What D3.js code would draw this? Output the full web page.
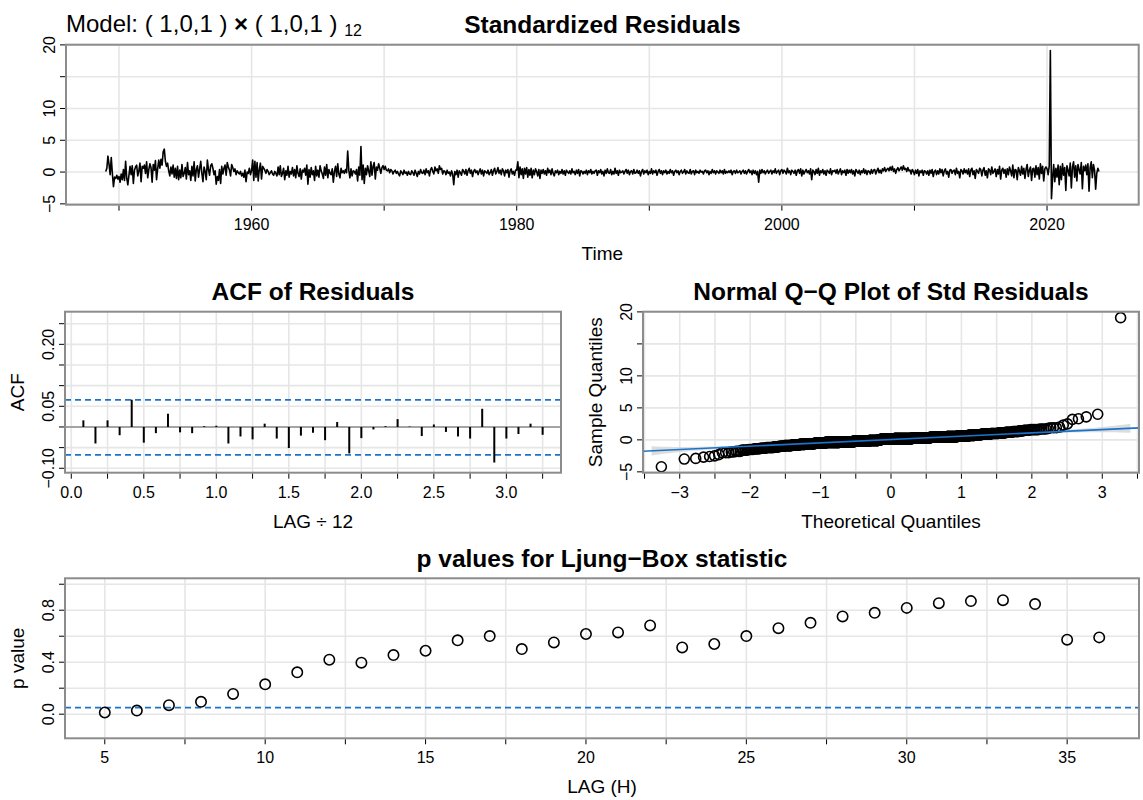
<!DOCTYPE html>
<html>
<head>
<meta charset="utf-8">
<script src="https://cdn.jsdelivr.net/npm/d3@7"></script>
<style>
  body { margin: 0; background: #fff; }
  text { font-family: "Liberation Sans", Arial, Helvetica, sans-serif; fill: #000; }
</style>
</head>
<body>
<svg id="chart" width="1143" height="800"></svg>
<script>
// monthly standardized residuals, Jan 1949 .. Dec 2023 (one row per year)
var startYear = 1949;
var resid = [
  0.1, 0.6, 2.5, 1.2, -0.4, 2.3, -0.2, -2.3, -0.8, -1.0, -0.5, -1.1,
  -0.7, -1.6, -0.3, -1.2, 0.4, -1.3, 1.7, -0.9, -2.0, -0.5, 0.9, -0.4,
  1.0, -1.8, 0.3, 0.8, 1.1, -0.6, 0.2, 1.4, -1.5, 0.9, 0.6, 1.1,
  -0.2, 1.6, -0.9, 0.4, 1.3, 0.7, -1.6, 1.2, 0.3, 1.8, -1.2, 0.5,
  1.9, 0.6, 2.0, 1.1, 3.2, 3.6, 1.7, 0.9, 1.4, 0.2, -0.6, 0.8,
  -0.3, 1.1, -0.8, 0.6, -1.0, 0.9, -1.2, 0.3, -0.9, 1.2, -0.7, -0.2,
  0.7, -1.1, 1.5, -0.4, 0.2, -1.3, 0.9, -0.6, 1.6, -1.4, 0.4, 1.0,
  -0.8, 0.5, 1.7, -0.2, -1.5, 0.8, 0.1, -1.2, 1.9, 0.4, -0.5, 1.0,
  1.3, 0.6, -0.4, 0.2, -1.9, -0.7, -1.3, 0.4, -1.8, 0.9, -0.3, 0.6,
  1.1, -0.5, 1.5, 0.8, 0.3, -0.6, 1.2, 0.7, 0.1, 0.5, -0.4, 0.2,
  -0.1, -0.3, 0.1, -0.6, -0.2, -0.8, 0.3, -1.5, 0.0, -0.2, 0.6, -0.4,
  0.2, 1.9, -1.3, 1.7, -0.8, 1.5, -1.4, 0.4, 1.4, -1.1, 0.9, 0.6,
  0.3, -0.2, 0.4, 0.1, -0.4, -0.1, 0.2, -0.3, -0.5, 0.1, -0.2, -0.6,
  0.8, -0.4, 1.0, -0.7, -0.2, 0.6, -1.2, 0.2, -0.5, 0.9, -0.8, 0.1,
  -0.3, 0.7, -0.6, 0.4, -0.9, 1.0, -0.2, -0.7, 0.5, -1.1, 0.3, 0.0,
  0.6, -0.5, 1.1, -1.9, 0.4, -0.8, 0.7, -0.4, 0.2, -1.3, 0.9, -0.6,
  0.3, -0.8, 1.0, 0.2, -0.3, -1.0, 0.8, -0.5, 1.2, -0.9, 0.4, -0.2,
  -0.4, 0.5, -1.6, 0.1, 0.9, -0.7, 1.3, -0.3, -0.9, 0.6, -0.1, 0.2,
  -0.2, 0.4, -0.1, 3.3, 0.3, -0.9, 0.5, -0.6, 0.2, 0.1, -0.3, 0.4,
  -1.4, 0.8, -0.5, 4.0, -1.2, 1.1, -1.8, 0.6, -0.4, 1.0, 0.2, -0.7,
  1.6, -0.5, 0.9, 1.5, -1.1, 0.8, 0.3, 1.3, 0.6, -0.2, 0.7, 1.0,
  0.4, 0.9, 0.3, 0.2, 0.5, -0.1, 0.4, 0.2, -0.3, 0.1, 0.3, -0.2,
  0.1, -0.3, -0.6, 0.2, -0.1, -0.4, 0.3, -0.2, 0.0, -0.5, 0.1, -0.3,
  -0.4, 0.2, -0.1, -0.5, 0.3, -0.2, -0.7, 0.1, -0.3, 0.4, -0.1, -0.2,
  0.3, -0.4, 0.5, -0.1, 0.2, -0.6, 0.4, 0.7, 0.1, -0.3, 0.8, 0.2,
  0.5, -0.2, 1.0, 0.4, 0.6, -0.3, 0.2, 0.1, -0.4, 0.3, -0.2, 0.0,
  -0.6, 0.2, -0.3, -2.0, 0.1, -0.4, 0.3, -0.8, 0.2, -0.1, -0.5, 0.4,
  0.1, -0.3, 0.4, -0.5, 0.2, 0.6, -0.2, 0.3, -0.7, 0.1, 0.4, -0.1,
  0.2, -0.4, 0.1, 0.5, -0.3, 0.3, -0.6, 0.2, 0.0, -0.2, 0.3, -0.4,
  -0.1, 0.4, -0.5, 0.2, 0.6, -0.3, 0.1, 0.7, -0.2, 0.3, -0.4, 0.5,
  0.2, -0.6, 0.3, -0.1, 0.4, -0.8, 0.2, 0.5, -0.3, 0.1, -0.5, 0.3,
  0.3, 1.6, -0.9, 0.8, -0.4, 0.5, -1.0, 0.6, -0.3, 0.7, -0.8, 0.4,
  -0.5, 0.6, -0.9, 0.3, -0.4, 0.5, 0.1, -0.6, 0.4, -1.0, 0.3, -0.2,
  0.4, -0.3, 0.2, -0.5, 0.6, -0.1, 0.3, -0.4, 0.5, -0.2, -0.6, 0.2,
  -0.1, 0.3, -0.4, 0.1, -0.2, 0.4, -0.3, 0.2, -0.5, 0.3, 0.0, -0.2,
  0.2, -0.3, 0.5, -0.1, 0.1, -0.4, 0.3, -0.2, 0.4, -0.6, 0.2, 0.1,
  -0.3, 0.1, -0.2, 0.3, -0.4, 0.2, -0.1, 0.4, -0.3, 0.1, -0.2, 0.2,
  0.3, -0.5, 0.2, -0.1, 0.4, -0.3, 0.1, -0.6, 0.3, -0.2, 0.5, -0.1,
  -0.2, 0.4, -0.4, 0.1, -0.3, 0.6, -0.2, 0.2, -0.5, 0.3, -0.1, 0.0,
  0.2, -0.3, 0.1, 0.4, -0.2, 0.3, -0.4, 0.1, 0.2, -0.3, 0.4, -0.2,
  -0.1, 0.3, -0.2, 0.2, -0.6, 0.1, 0.4, -0.3, 0.2, -0.1, 0.3, -0.4,
  0.1, -0.2, 0.5, -0.3, 0.2, -0.1, 0.3, -0.5, 0.1, 0.4, -0.2, 0.2,
  -0.4, 0.2, -0.1, 0.3, -0.3, 0.1, -0.2, 0.4, -0.1, 0.2, -0.5, 0.1,
  0.3, -0.1, 0.2, -0.4, 0.1, 0.3, -0.2, 0.0, 0.4, -0.3, 0.2, -0.1,
  -0.2, 0.4, -0.3, 0.1, 0.2, -0.4, 0.3, -0.1, 0.1, -0.2, 0.3, 0.0,
  0.1, -0.3, 0.2, 0.3, -0.1, 0.2, -0.4, 0.1, -0.2, 0.4, -0.1, 0.2,
  -0.3, 0.2, 0.0, -0.2, 0.3, -0.1, 0.2, -0.3, 0.4, -0.2, 0.1, -0.1,
  0.2, -0.1, 0.3, -0.4, 0.1, 0.2, -0.2, 0.3, -0.1, 0.0, 0.2, -0.3,
  0.1, 0.3, -0.2, 0.2, -0.3, 0.1, 0.4, -0.1, 0.2, -0.4, 0.3, -0.2,
  0.2, -0.4, 0.1, -1.6, 0.3, -0.2, 0.4, -0.1, 0.2, -0.3, 0.1, 0.3,
  -0.2, 0.1, 0.3, -0.3, 0.2, -0.1, 0.5, -0.2, 0.1, 0.3, -0.4, 0.2,
  0.4, -0.2, 0.3, 0.1, -0.3, 0.6, -0.1, 0.2, -0.4, 0.3, 0.1, -0.2,
  0.3, -0.5, 0.2, 0.4, -0.2, 0.5, -0.6, 0.3, -0.3, 0.1, 0.4, -0.1,
  0.2, -0.3, 0.5, -1.2, 0.3, 0.1, -0.4, 0.4, -0.2, 0.6, -0.5, 0.2,
  -0.1, 0.4, -0.3, 0.2, -0.5, 0.3, 0.1, -0.2, 0.5, -0.4, 0.2, 0.1,
  0.3, -0.2, 0.4, -0.3, 0.1, 0.5, -0.4, 0.2, -0.1, 0.3, -0.5, 0.4,
  -0.2, 0.3, -0.1, 0.4, -0.3, 0.2, -0.6, 0.4, 0.1, -0.2, 0.3, -0.4,
  0.2, -0.1, 0.5, -0.2, 0.3, -0.4, 0.2, 0.1, -0.3, 0.4, -0.2, 0.3,
  0.4, -0.3, 0.2, 0.6, -0.1, 0.3, -0.2, 0.5, 0.2, 0.7, 0.1, 0.4,
  0.6, 0.2, 0.8, 0.3, 0.9, 0.1, 0.5, -0.2, 0.4, 0.7, 0.2, 0.5,
  0.8, 0.3, 1.0, 0.4, 0.6, 0.1, 0.7, 0.2, 0.3, -0.3, 0.4, 0.1,
  -0.4, 0.3, -0.2, 0.4, -0.6, 0.2, -0.1, 0.3, -0.5, 0.2, 0.1, -0.3,
  0.2, -0.5, 0.3, -0.2, 0.4, -0.7, 0.1, 0.3, -0.4, 0.2, -0.3, 0.5,
  -0.1, 0.4, -0.6, 0.2, 0.5, -0.3, 0.1, -0.8, 0.3, 0.4, -0.2, 0.2,
  0.3, -0.4, 0.6, -0.2, 0.1, -0.9, 0.4, 0.2, -0.3, 0.5, -0.1, 0.3,
  -0.3, 0.5, -0.7, 0.3, 0.6, -0.4, 0.2, -1.0, 0.4, 0.1, -0.2, 0.6,
  0.4, -0.6, 0.3, 0.7, -0.5, 0.2, -0.9, 0.5, 0.3, -0.4, 0.8, -0.2,
  0.1, 0.5, -0.7, 0.4, -0.3, 0.9, -1.1, 0.3, 0.6, -0.2, 0.4, -0.8,
  0.5, -0.4, 0.8, 0.2, -0.6, 1.1, -0.9, 0.4, 0.3, -1.2, 0.7, 0.2,
  -0.5, 0.9, -0.3, 0.6, -1.0, 0.4, 1.2, -0.7, 0.3, 0.8, -1.3, 0.5,
  0.6, -0.8, 1.0, -0.4, 0.7, -1.1, 1.3, -0.2, 0.9, -1.4, 0.5, 0.8,
  0.5, -0.4, 1.0, 19.1, -4.2, -1.0, 1.2, -1.5, 0.6, -0.8, 1.1, -2.0,
  0.9, -1.2, 1.3, -0.5, 0.7, -2.9, 1.0, 0.3, -0.6, 1.4, -2.5, 0.8,
  1.6, -0.8, 1.0, -1.4, 1.2, 0.4, -0.3, 1.5, -2.6, 0.9, 0.2, 1.1,
  -0.4, 1.3, -3.0, 0.7, 1.6, -0.9, 1.2, 0.3, -2.7, -0.2, 0.6, 0.1
];

// ACF of residuals, lags 1..39 (plotted as lag/12)
var acfVals = [
  0.016, -0.040, 0.016, -0.020, 0.066, -0.038, -0.015, 0.032, -0.013, -0.015, 0.002, 0.003,
  -0.040, -0.023, -0.030, 0.008, -0.028, -0.051, -0.021, -0.014, -0.032, 0.012, -0.064, -0.027,
  -0.006, 0.002, 0.019, 0.001, -0.022, 0.006, -0.012, -0.023, -0.028, 0.044, -0.086, -0.028,
  -0.017, 0.008, -0.019
];
var acfFreq = 12;

// Ljung-Box p values, H = 5..36
var lbLags = [5, 6, 7, 8, 9, 10, 11, 12, 13, 14, 15, 16, 17, 18, 19, 20,
              21, 22, 23, 24, 25, 26, 27, 28, 29, 30, 31, 32, 33, 34, 35, 36];
var lbPvals = [0.013, 0.028, 0.069, 0.095, 0.156, 0.230, 0.322, 0.419, 0.396, 0.455, 0.488, 0.568,
               0.601, 0.501, 0.552, 0.617, 0.629, 0.683, 0.514, 0.540, 0.601, 0.662, 0.703, 0.752,
               0.780, 0.818, 0.854, 0.870, 0.877, 0.847, 0.573, 0.591];

var svg = d3.select("#chart");
var gridCol = "#e6e6e6", boxCol = "#8c8c8c", blue = "#1874CD";
var tickFont = "16px", labFont = "19px", mainFont = "bold 24.5px";

// R style range: data extent padded 4% each side
function pad(ext) {
  var d = (ext[1] - ext[0]) * 0.04;
  return [ext[0] - d, ext[1] + d];
}

function qnorm(p) {
  var a = [-3.969683028665376e+01, 2.209460984245205e+02, -2.759285104469687e+02, 1.383577518672690e+02, -3.066479806614716e+01, 2.506628277459239e+00];
  var b = [-5.447609879822406e+01, 1.615858368580409e+02, -1.556989798598866e+02, 6.680131188771972e+01, -1.328068155288572e+01];
  var c = [-7.784894002430293e-03, -3.223964580411365e-01, -2.400758277161838e+00, -2.549732539343734e+00, 4.374664141464968e+00, 2.938163982698783e+00];
  var d = [7.784695709041462e-03, 3.224671290700398e-01, 2.445134137142996e+00, 3.754408661907416e+00];
  var q, r;
  if (p < 0.02425) {
    q = Math.sqrt(-2 * Math.log(p));
    return (((((c[0]*q+c[1])*q+c[2])*q+c[3])*q+c[4])*q+c[5]) / ((((d[0]*q+d[1])*q+d[2])*q+d[3])*q+1);
  }
  if (p > 1 - 0.02425) {
    q = Math.sqrt(-2 * Math.log(1 - p));
    return -(((((c[0]*q+c[1])*q+c[2])*q+c[3])*q+c[4])*q+c[5]) / ((((d[0]*q+d[1])*q+d[2])*q+d[3])*q+1);
  }
  q = p - 0.5; r = q * q;
  return (((((a[0]*r+a[1])*r+a[2])*r+a[3])*r+a[4])*r+a[5])*q / (((((b[0]*r+b[1])*r+b[2])*r+b[3])*r+b[4])*r+1);
}
function dnorm(z) { return Math.exp(-z * z / 2) / Math.sqrt(2 * Math.PI); }
function erf(x) {
  var t = 1 / (1 + 0.3275911 * Math.abs(x));
  var y = 1 - (((((1.061405429 * t - 1.453152027) * t) + 1.421413741) * t - 0.284496736) * t + 0.254829592) * t * Math.exp(-x * x);
  return x >= 0 ? y : -y;
}

// grid, box, ticks and labels for one panel
function panel(x, y, o) {
  var g = svg.append("g");
  var x0 = x.range()[0], x1 = x.range()[1], y0 = y.range()[0], y1 = y.range()[1];
  g.selectAll(".gx").data(o.gridX).enter().append("line")
    .attr("x1", x).attr("x2", x).attr("y1", y0).attr("y2", y1)
    .attr("stroke", gridCol).attr("stroke-width", 1.6);
  g.selectAll(".gy").data(o.gridY).enter().append("line")
    .attr("y1", y).attr("y2", y).attr("x1", x0).attr("x2", x1)
    .attr("stroke", gridCol).attr("stroke-width", 1.6);
  var top = svg.append("g");
  o.after = function() {
    top.raise();
    top.append("rect").attr("x", x0).attr("y", y1).attr("width", x1 - x0).attr("height", y0 - y1)
      .attr("fill", "none").attr("stroke", boxCol).attr("stroke-width", 2);
    top.selectAll(".tx").data(o.ticksX).enter().append("line")
      .attr("x1", x).attr("x2", x).attr("y1", y0 + 1).attr("y2", y0 + 6)
      .attr("stroke", "#000").attr("stroke-width", 1);
    top.selectAll(".ty").data(o.ticksY).enter().append("line")
      .attr("y1", y).attr("y2", y).attr("x1", x0 - 1).attr("x2", x0 - 6)
      .attr("stroke", "#000").attr("stroke-width", 1);
    top.selectAll(".lx").data(o.labX).enter().append("text")
      .attr("x", x).attr("y", y0 + 25).attr("text-anchor", "middle")
      .style("font-size", tickFont).text(o.fmtX);
    top.selectAll(".ly").data(o.labY).enter().append("text")
      .attr("transform", function(d) { return "translate(" + (x0 - 11) + "," + y(d) + ") rotate(-90)"; })
      .attr("text-anchor", "middle").style("font-size", tickFont).text(o.fmtY);
    top.append("text").attr("x", (x0 + x1) / 2).attr("y", y0 + 55).attr("text-anchor", "middle")
      .style("font-size", labFont).text(o.xlab);
    top.append("text").attr("transform", "translate(" + (x0 - 41) + "," + ((y0 + y1) / 2) + ") rotate(-90)")
      .attr("text-anchor", "middle").style("font-size", labFont).text(o.ylab);
    top.append("text").attr("x", (x0 + x1) / 2).attr("y", y1 - 11.5).attr("text-anchor", "middle")
      .style("font", mainFont + " 'Liberation Sans', Arial, sans-serif").text(o.main);
  };
  return g;
}

// ---- standardized residuals ----
var times = resid.map(function(v, i) { return startYear + i / 12; });
var xT = d3.scaleLinear().domain(pad(d3.extent(times))).range([66, 1138.7]);
var yT = d3.scaleLinear().domain(pad(d3.extent(resid))).range([204.7, 44.7]);
var oT = {
  gridX: d3.range(1950, 2021, 10), gridY: d3.range(-5, 21, 5),
  ticksX: d3.range(1950, 2021, 10), ticksY: d3.range(-5, 21, 5),
  labX: [1960, 1980, 2000, 2020], labY: [-5, 0, 5, 10, 20],
  fmtX: d3.format("d"), fmtY: d3.format("d"),
  xlab: "Time", ylab: "", main: "Standardized Residuals"
};
var gT = panel(xT, yT, oT);
gT.append("path").datum(resid)
  .attr("d", d3.line().x(function(d, i) { return xT(times[i]); }).y(function(d) { return yT(d); }))
  .attr("fill", "none").attr("stroke", "#000").attr("stroke-width", 1.6).attr("stroke-linejoin", "round");
oT.after();
var model = svg.append("text").attr("x", 66).attr("y", 32).style("font-size", "24px");
model.append("tspan").text("Model: ( 1,0,1 ) ");
model.append("tspan").style("font-weight", "bold").text("\u00d7");
model.append("tspan").text(" ( 1,0,1 ) ");
model.append("tspan").attr("dy", 4).style("font-size", "16px").text("12");

// ---- ACF ----
var acfLag = acfVals.map(function(v, i) { return (i + 1) / acfFreq; });
var nObs = resid.length;
var xA = d3.scaleLinear().domain(pad(d3.extent(acfLag))).range([65, 561]);
var yA = d3.scaleLinear().domain([-0.1107, 0.279]).range([472.7, 311.7]);
var oA = {
  gridX: d3.range(0, 3.3, 0.25), gridY: d3.range(-0.1, 0.26, 0.05),
  ticksX: d3.range(0, 3.3, 0.25), ticksY: d3.range(-0.1, 0.26, 0.05),
  labX: d3.range(0, 3.1, 0.5), labY: [-0.1, 0.05, 0.2],
  fmtX: d3.format(".1f"), fmtY: d3.format(".2f"),
  xlab: "LAG \u00f7 12", ylab: "ACF", main: "ACF of Residuals"
};
var gA = panel(xA, yA, oA);
gA.append("line").attr("x1", 65).attr("x2", 561).attr("y1", yA(0)).attr("y2", yA(0))
  .attr("stroke", "#8c8c8c").attr("stroke-width", 1.5);
[-1 / nObs + 2 / Math.sqrt(nObs), -1 / nObs - 2 / Math.sqrt(nObs)].forEach(function(b) {
  gA.append("line").attr("x1", 65).attr("x2", 561).attr("y1", yA(b)).attr("y2", yA(b))
    .attr("stroke", blue).attr("stroke-width", 1.7).attr("stroke-dasharray", "6,4");
});
gA.selectAll(".spk").data(acfVals).enter().append("line")
  .attr("x1", function(d, i) { return xA(acfLag[i]); }).attr("x2", function(d, i) { return xA(acfLag[i]); })
  .attr("y1", yA(0)).attr("y2", function(d) { return yA(d); })
  .attr("stroke", "#000").attr("stroke-width", 2);
oA.after();

// ---- Normal Q-Q ----
var sorted = resid.slice().sort(d3.ascending);
var n = sorted.length;
var qq = sorted.map(function(v, i) { return { z: qnorm((i + 0.5) / n), s: v }; });
var q1 = d3.quantile(sorted, 0.25), q3 = d3.quantile(sorted, 0.75);
var slope = (q3 - q1) / (qnorm(0.75) - qnorm(0.25));
var icpt = q1 - slope * qnorm(0.25);
var xQ = d3.scaleLinear().domain(pad(d3.extent(qq, function(d) { return d.z; }))).range([643, 1139]);
var yQ = d3.scaleLinear().domain(pad(d3.extent(sorted))).range([472.7, 311.7]);
var oQ = {
  gridX: d3.range(-3.5, 3.6, 0.5), gridY: d3.range(-5, 21, 5),
  ticksX: d3.range(-3.5, 3.6, 0.5), ticksY: d3.range(-5, 21, 5),
  labX: d3.range(-3, 4, 1), labY: [-5, 0, 5, 10, 20],
  fmtX: d3.format("d"), fmtY: d3.format("d"),
  xlab: "Theoretical Quantiles", ylab: "Sample Quantiles", main: "Normal Q\u2212Q Plot of Std Residuals"
};
var gQ = panel(xQ, yQ, oQ);
var zs = d3.range(-3.4, 3.401, 0.05);
var band = zs.map(function(z) {
  var pz = 0.5 * (1 + erf(z / Math.SQRT2));
  var se = slope / dnorm(z) * Math.sqrt(pz * (1 - pz) / n);
  return { z: z, lo: icpt + slope * z - 2.8 * se, hi: icpt + slope * z + 2.8 * se };
});
gQ.append("path").datum(band)
  .attr("d", d3.area().x(function(d) { return xQ(d.z); }).y0(function(d) { return yQ(d.lo); }).y1(function(d) { return yQ(d.hi); }))
  .attr("fill", "#cfcfcf").attr("opacity", 0.7);
gQ.selectAll(".pt").data(qq).enter().append("circle")
  .attr("cx", function(d) { return xQ(d.z); }).attr("cy", function(d) { return yQ(d.s); })
  .attr("r", 5).attr("fill", "none").attr("stroke", "#000").attr("stroke-width", 1.6);
var zl = xQ.domain();
gQ.append("line").attr("x1", xQ(zl[0])).attr("x2", xQ(zl[1]))
  .attr("y1", yQ(icpt + slope * zl[0])).attr("y2", yQ(icpt + slope * zl[1]))
  .attr("stroke", blue).attr("stroke-width", 1.6);
oQ.after();

// ---- Ljung-Box ----
var xL = d3.scaleLinear().domain(pad(d3.extent(lbLags))).range([65, 1139]);
var yL = d3.scaleLinear().domain(pad([-0.14, 1])).range([738.3, 578.3]);
var oL = {
  gridX: d3.range(5, 37.5, 2.5), gridY: d3.range(0, 1.01, 0.2),
  ticksX: d3.range(5, 37.5, 2.5), ticksY: d3.range(0, 1.01, 0.2),
  labX: d3.range(5, 36, 5), labY: [0, 0.4, 0.8],
  fmtX: d3.format("d"), fmtY: d3.format(".1f"),
  xlab: "LAG (H)", ylab: "p value", main: "p values for Ljung\u2212Box statistic"
};
var gL = panel(xL, yL, oL);
gL.append("line").attr("x1", 65).attr("x2", 1139).attr("y1", yL(0.05)).attr("y2", yL(0.05))
  .attr("stroke", blue).attr("stroke-width", 1.7).attr("stroke-dasharray", "6,4");
gL.selectAll(".pv").data(lbPvals).enter().append("circle")
  .attr("cx", function(d, i) { return xL(lbLags[i]); }).attr("cy", function(d) { return yL(d); })
  .attr("r", 5.2).attr("fill", "none").attr("stroke", "#000").attr("stroke-width", 1.6);
oL.after();
</script>
</body>
</html>
